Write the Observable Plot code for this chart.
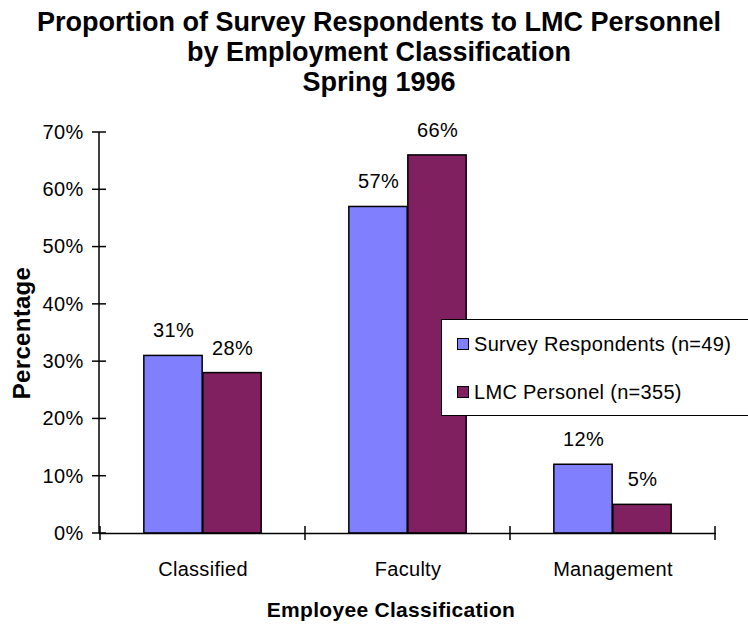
<!DOCTYPE html>
<html>
<head>
<meta charset="utf-8">
<script src="https://cdn.jsdelivr.net/npm/d3@7"></script>
<script src="https://cdn.jsdelivr.net/npm/@observablehq/plot@0.6"></script>
<style>
html, body { margin: 0; padding: 0; background: #fff; }
#wrap { position: relative; width: 748px; height: 626px; overflow: hidden; font-family: "Liberation Sans", Arial, sans-serif; color: #000; }
#title { position: absolute; left: 0; top: 0; width: 758px; text-align: center; font-weight: bold; font-size: 27px; line-height: 30px; padding-top: 7px; }
#chart { position: absolute; left: 0; top: 110px; }
#legend { position: absolute; left: 441px; top: 319px; width: 330px; height: 97px; border: 1.5px solid #000; background: #fff; box-sizing: border-box; }
.item { position: absolute; left: 15px; height: 24px; display: flex; align-items: center; font-size: 20px; letter-spacing: 0.3px; white-space: nowrap; }
.sw { width: 10px; height: 10px; border: 1.5px solid #000; margin-right: 5px; }
</style>
</head>
<body>
<div id="wrap">
  <div id="title"></div>
  <div id="chart"></div>
  <div id="legend"></div>
</div>
<script>
const titleLines = ["Proportion of Survey Respondents to LMC Personnel", "by Employment Classification", "Spring 1996"];
const categories = ["Classified", "Faculty", "Management"];
const series = ["Survey Respondents (n=49)", "LMC Personel (n=355)"];
const surveyValues = [0.31, 0.57, 0.12];
const personnelValues = [0.28, 0.66, 0.05];
const yTicks = [0, 0.1, 0.2, 0.3, 0.4, 0.5, 0.6, 0.7];
const colors = ["#8080FF", "#802060"];
const xLabel = "Employee Classification";
const yLabel = "Percentage";

document.getElementById("title").innerHTML = titleLines.map(t => `<div>${t}</div>`).join("");

const rows = categories.flatMap((c, i) => [
  {category: c, series: series[0], value: surveyValues[i]},
  {category: c, series: series[1], value: personnelValues[i]}
]);

const W = 748, H = 516, mL = 99, mR = 32, mT = 22, mB = 93;
const band = (W - mL - mR) / categories.length;
const barW = 59;
const gap = band / 2 - barW;

const axisMarks = (index, scales, values, dims) => {
  const {x, y} = scales;
  const g = d3.create("svg:g").attr("stroke", "black").attr("stroke-width", 1.5).attr("fill", "none");
  const y0 = y(0);
  g.append("line").attr("x1", mL).attr("x2", mL).attr("y1", y(yTicks[yTicks.length - 1])).attr("y2", y0);
  yTicks.forEach(t => g.append("line").attr("x1", mL - 7).attr("x2", mL + 7).attr("y1", y(t)).attr("y2", y(t)));
  const bw = typeof x.bandwidth === "function" ? x.bandwidth() : band;
  const xs = categories.map(c => x(c)).concat([x(categories[categories.length - 1]) + bw]);
  xs.forEach(px => g.append("line").attr("x1", px).attr("x2", px).attr("y1", y0 - 7).attr("y2", y0 + 7));
  return g.node();
};

const pct = d => Math.round(d.value * 100) + "%";

const chart = Plot.plot({
  width: W,
  height: H,
  marginLeft: mL,
  marginRight: mR,
  marginTop: mT,
  marginBottom: mB,
  style: {fontFamily: "Liberation Sans, Arial, sans-serif", fontSize: "20px", color: "black", background: "transparent", letterSpacing: "0.3px"},
  x: {domain: categories, padding: 0, tickSize: 0, tickPadding: 28, label: null},
  y: {domain: [0, 0.7], ticks: yTicks, tickFormat: d => Math.round(d * 100) + "%", tickSize: 0, tickPadding: 16, label: null},
  color: {domain: series, range: colors},
  marks: [
    Plot.barY(rows.filter(d => d.series === series[0]), {x: "category", y: "value", fill: "series", stroke: "black", strokeWidth: 1.5, insetLeft: gap, insetRight: band / 2}),
    Plot.barY(rows.filter(d => d.series === series[1]), {x: "category", y: "value", fill: "series", stroke: "black", strokeWidth: 1.5, insetLeft: band / 2, insetRight: gap}),
    Plot.ruleY([0], {stroke: "black", strokeWidth: 1.5}),
    axisMarks,
    Plot.text(rows.filter(d => d.series === series[0]), {x: "category", y: "value", text: pct, dx: -barW / 2, dy: -25, fontSize: 20, fill: "black"}),
    Plot.text(rows.filter(d => d.series === series[1]), {x: "category", y: "value", text: pct, dx: barW / 2, dy: -25, fontSize: 20, fill: "black"}),
    Plot.text([yLabel], {text: d => d, frameAnchor: "left", textAnchor: "middle", lineAnchor: "middle", dx: -77, rotate: -90, fontWeight: "bold", fontSize: 24, fill: "black"}),
    Plot.text([xLabel], {text: d => d, frameAnchor: "bottom", textAnchor: "middle", lineAnchor: "middle", dx: -17, dy: 77, fontWeight: "bold", fontSize: 21, fill: "black"})
  ]
});
document.getElementById("chart").appendChild(chart);

document.getElementById("legend").innerHTML = series.map((s, i) =>
  `<div class="item" style="top:${[12, 60][i]}px"><div class="sw" style="background:${colors[i]}"></div><span>${s}</span></div>`
).join("");
</script>
</body>
</html>
